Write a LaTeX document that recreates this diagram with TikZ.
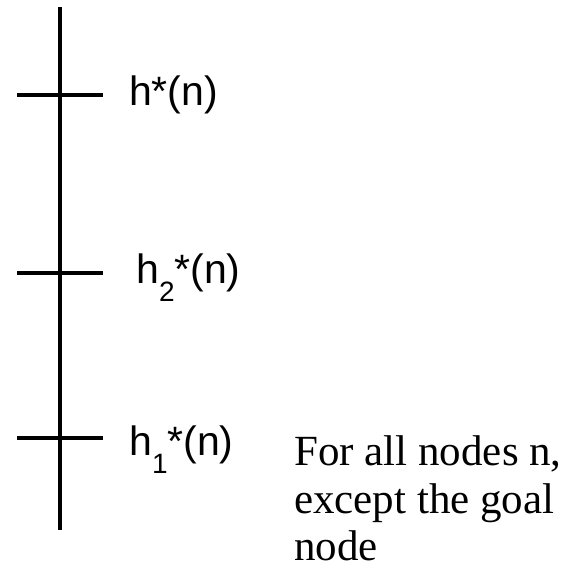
\documentclass[tikz,border=0pt]{standalone}
\usepackage{fontspec}
\setmainfont{Liberation Serif}
\newfontfamily\lsans{Liberation Sans}
\begin{document}
\begin{tikzpicture}[x=1pt,y=1pt,
  axis/.style={line width=3.1pt},
  lbl/.style={font=\lsans\fontsize{41}{48}\selectfont, anchor=base west, inner sep=0pt},
  note/.style={font=\fontsize{43}{48}\selectfont, anchor=base west, inner sep=0pt}]
\useasboundingbox (0,0) rectangle (563,-571);
\coordinate (top) at (60,-7);
\coordinate (bot) at (60,-530);
\draw[axis] (top) -- (bot);
\coordinate (a1) at (17,-95);  \coordinate (a2) at (103,-95);
\coordinate (b1) at (17,-273); \coordinate (b2) at (103,-273);
\coordinate (c1) at (17,-438); \coordinate (c2) at (103,-438);
\draw[axis] (a1) -- (a2);
\draw[axis] (b1) -- (b2);
\draw[axis] (c1) -- (c2);
\node[lbl] (ha) at (129,-105) {h*(n)};
\node[lbl] (hb) at (136,-283) {h\raisebox{-0.45em}{\fontsize{28}{28}\selectfont 2}*(n)};
\node[lbl] (hc) at (129,-455) {h\raisebox{-0.45em}{\fontsize{28}{28}\selectfont 1}*(n)};
\node[note] (t1) at (294,-465) {For all nodes n,};
\node[note] (t2) at (294,-513) {except the goal};
\node[note] (t3) at (294,-560) {node};
\end{tikzpicture}
\end{document}
